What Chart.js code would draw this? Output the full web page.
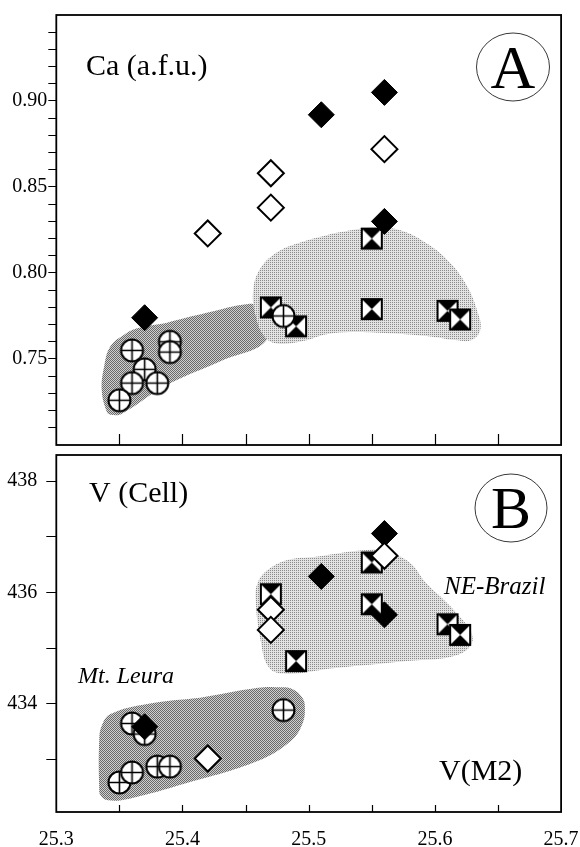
<!DOCTYPE html>
<html><head><meta charset="utf-8">
<script src="https://cdn.jsdelivr.net/npm/chart.js@4/dist/chart.umd.min.js"></script>
<style>
html,body{margin:0;padding:0;background:#fff;}
body{width:580px;height:847px;position:relative;overflow:hidden;}
#ca{position:absolute;left:0;top:0;}
#cb{position:absolute;left:0;top:440px;}
</style></head>
<body>
<canvas id="ca" width="580" height="460"></canvas>
<canvas id="cb" width="580" height="407"></canvas>
<script>
// ---------- shared axis ----------
const xMin = 25.3, xMax = 25.7, xStep = 0.05;

// ---------- Panel A : Ca (a.f.u.) ----------
const caFilledX = [25.56, 25.51, 25.56, 25.37];
const caFilledY = [0.905, 0.892, 0.830, 0.774];
const caOpenX   = [25.56, 25.47, 25.47, 25.42];
const caOpenY   = [0.872, 0.858, 0.838, 0.823];
const caSquareX = [25.55, 25.47, 25.49, 25.55, 25.61, 25.62];
const caSquareY = [0.820, 0.780, 0.769, 0.779, 0.778, 0.773];
const caCircleX = [25.48, 25.36, 25.39, 25.39, 25.37, 25.36, 25.38, 25.35];
const caCircleY = [0.775, 0.755, 0.760, 0.754, 0.744, 0.736, 0.736, 0.726];
// field outlines (data units)
const caLeuraX = [25.387, 25.420, 25.452, 25.460, 25.467, 25.431, 25.387, 25.352, 25.343, 25.340, 25.336, 25.338, 25.343, 25.354, 25.365, 25.387];
const caLeuraY = [0.7710, 0.7770, 0.7820, 0.7803, 0.7615, 0.7490, 0.7347, 0.7182, 0.7176, 0.7193, 0.7318, 0.7461, 0.7575, 0.7643, 0.7680, 0.7710];
const caBrazilX = [25.519, 25.550, 25.572, 25.594, 25.612, 25.625, 25.634, 25.636, 25.629, 25.616, 25.598, 25.563, 25.519, 25.493, 25.475, 25.465, 25.458, 25.456, 25.462, 25.475, 25.490, 25.519];
const caBrazilY = [0.823, 0.8265, 0.825, 0.817, 0.806, 0.793, 0.777, 0.767, 0.761, 0.761, 0.763, 0.765, 0.765, 0.760, 0.759, 0.763, 0.775, 0.790, 0.803, 0.812, 0.817, 0.823];
const caTicksY = [0.75, 0.80, 0.85, 0.90];

// ---------- Panel B : V (Cell) ----------
const vFilledX = [25.56, 25.51, 25.56, 25.37];
const vFilledY = [437.06, 436.29, 435.60, 433.59];
const vOpenX   = [25.56, 25.47, 25.47, 25.42];
const vOpenY   = [436.66, 435.69, 435.33, 433.02];
const vSquareX = [25.55, 25.47, 25.55, 25.49, 25.61, 25.62];
const vSquareY = [436.54, 435.97, 435.79, 434.77, 435.43, 435.24];
const vCircleX = [25.48, 25.36, 25.37, 25.35, 25.36, 25.38, 25.39];
const vCircleY = [433.89, 433.65, 433.46, 432.59, 432.77, 432.875, 432.875];
const vLeuraX = [25.414, 25.460, 25.475, 25.487, 25.495, 25.497, 25.495, 25.486, 25.460, 25.402, 25.358, 25.341, 25.335, 25.334, 25.334, 25.336, 25.343, 25.372, 25.414];
const vLeuraY = [434.11, 434.29, 434.30, 434.27, 434.11, 433.93, 433.64, 433.34, 432.98, 432.57, 432.30, 432.27, 432.36, 432.50, 433.34, 433.61, 433.82, 434.00, 434.11];
const vBrazilX = [25.504, 25.549, 25.566, 25.581, 25.592, 25.616, 25.630, 25.619, 25.578, 25.519, 25.484, 25.469, 25.462, 25.458, 25.460, 25.469, 25.484, 25.504];
const vBrazilY = [436.64, 436.77, 436.70, 436.52, 436.20, 435.66, 435.18, 434.89, 434.77, 434.64, 434.54, 434.64, 435.13, 435.89, 436.20, 436.43, 436.59, 436.64];
const vTicksY = [434, 436, 438];
const xTickLabels = [25.3, 25.4, 25.5, 25.6, 25.7];

// ---------- helpers ----------
const pts = (xs, ys) => xs.map((x, i) => ({x, y: ys[i]}));
const FONT = "'Liberation Serif', 'Times New Roman', serif";

function makeCircle(d) {
  const s = d + 4, c = document.createElement('canvas');
  c.width = c.height = s;
  const g = c.getContext('2d'), r = d / 2, m = s / 2;
  g.fillStyle = '#fff';
  g.beginPath(); g.arc(m, m, r, 0, Math.PI * 2); g.fill();
  g.strokeStyle = '#000'; g.lineWidth = 1.6;
  g.beginPath(); g.moveTo(m - r, m); g.lineTo(m + r, m); g.moveTo(m, m - r); g.lineTo(m, m + r); g.stroke();
  g.lineWidth = 2;
  g.beginPath(); g.arc(m, m, r - 0.5, 0, Math.PI * 2); g.stroke();
  return c;
}
function makeSquare(w) {
  const s = w + 2, c = document.createElement('canvas');
  c.width = c.height = s;
  const g = c.getContext('2d'), o = 1;
  g.fillStyle = '#fff'; g.fillRect(o, o, w, w);
  g.fillStyle = '#000';
  g.beginPath(); g.moveTo(o, o); g.lineTo(o + w, o); g.lineTo(o + w / 2, o + w / 2); g.closePath(); g.fill();
  g.beginPath(); g.moveTo(o, o + w); g.lineTo(o + w, o + w); g.lineTo(o + w / 2, o + w / 2); g.closePath(); g.fill();
  g.strokeStyle = '#000'; g.lineWidth = 2; g.strokeRect(o + 1, o + 1, w - 2, w - 2);
  return c;
}
function makePattern(size, dots, dark, light) {
  const c = document.createElement('canvas'); c.width = c.height = size;
  const g = c.getContext('2d');
  g.fillStyle = light; g.fillRect(0, 0, size, size);
  g.fillStyle = dark; dots.forEach(([x, y]) => g.fillRect(x, y, 1, 1));
  return g.createPattern(c, 'repeat');
}
const circleImg = makeCircle(23);
const squareImg = makeSquare(22);
const darkPat = makePattern(2, [[0, 0], [1, 1]], '#6a6a6a', '#cfcfcf');
const lightPat = makePattern(2, [[0, 0]], '#8a8a8a', '#e2e2e2');

const framePlugin = {
  id: 'frame',
  afterDraw(chart, args, opts) {
    const {ctx, chartArea: a} = chart, xs = chart.scales.x;
    ctx.save();
    ctx.strokeStyle = '#000'; ctx.lineWidth = 1.2;
    ctx.beginPath();
    xs.ticks.forEach(t => {
      if (t.value <= xMin + 1e-6 || t.value >= xMax - 1e-6) return;
      const px = Math.round(xs.getPixelForValue(t.value)) + 0.5;
      ctx.moveTo(px, a.bottom); ctx.lineTo(px, a.bottom - opts.tick);
    });
    ctx.stroke();
    ctx.lineWidth = 1.8;
    ctx.strokeRect(a.left, a.top, a.right - a.left, a.bottom - a.top);
    // panel letter circle
    const b = opts.badge;
    ctx.lineWidth = 0.9; ctx.strokeStyle = '#222';
    ctx.beginPath(); ctx.ellipse(b.cx, b.cy, b.rx, b.ry, 0, 0, Math.PI * 2); ctx.stroke();
    ctx.fillStyle = '#000'; ctx.textBaseline = 'alphabetic';
    ctx.font = b.font; ctx.textAlign = 'center';
    ctx.fillText(b.text, b.cx, b.base);
    opts.labels.forEach(l => {
      ctx.font = l.font; ctx.textAlign = 'left';
      ctx.fillText(l.text, l.x, l.y);
    });
    ctx.restore();
  }
};

function baseDatasets(fx, fy, ox, oy, sx, sy, cx, cy, bx, by, lx, ly, orders) {
  return [
    {label: 'filled', data: pts(fx, fy), pointStyle: 'rectRot', pointRadius: 13, backgroundColor: '#000', borderColor: '#000', borderWidth: 1, order: orders.filled},
    {label: 'open', data: pts(ox, oy), pointStyle: 'rectRot', pointRadius: 13, backgroundColor: '#fff', borderColor: '#000', borderWidth: 2, order: orders.open},
    {label: 'square', data: pts(sx, sy), pointStyle: squareImg, pointRadius: 11, order: orders.square},
    {label: 'circle', data: pts(cx, cy), pointStyle: circleImg, pointRadius: 11, order: orders.circle},
    {type: 'line', label: 'NE-Brazil field', data: pts(bx, by), fill: 'shape', backgroundColor: lightPat, borderColor: 'rgba(0,0,0,0)', borderWidth: 0, pointRadius: 0, tension: 0.4, order: 9},
    {type: 'line', label: 'Mt. Leura field', data: pts(lx, ly), fill: 'shape', backgroundColor: darkPat, borderColor: 'rgba(0,0,0,0)', borderWidth: 0, pointRadius: 0, tension: 0.4, order: 10}
  ];
}

const AXIS_LEFT = 56.3, AXIS_RIGHT_PAD = 580 - 561.1;

// ---------- Chart A ----------
new Chart(document.getElementById('ca'), {
  type: 'scatter',
  data: {datasets: baseDatasets(caFilledX, caFilledY, caOpenX, caOpenY, caSquareX, caSquareY, caCircleX, caCircleY, caBrazilX, caBrazilY, caLeuraX, caLeuraY, {filled: 0, open: 1, circle: 2, square: 3})},
  options: {
    responsive: false, animation: false, events: [],
    layout: {padding: {top: 13, right: AXIS_RIGHT_PAD, left: 0, bottom: 7}},
    plugins: {
      legend: {display: false}, tooltip: {enabled: false},
      frame: {
        tick: 11,
        badge: {text: 'A', cx: 513, cy: 67, rx: 36.5, ry: 34, base: 88, font: `62px ${FONT}`},
        labels: [{text: 'Ca (a.f.u.)', x: 86, y: 75, font: `30px ${FONT}`}]
      }
    },
    scales: {
      x: {type: 'linear', min: xMin, max: xMax, ticks: {display: false, stepSize: xStep}, grid: {display: false, drawTicks: false}, border: {display: false},
          afterFit(s) { s.height = 0; s.paddingLeft = 0; s.paddingRight = 0; }},
      y: {type: 'linear', min: 0.70, max: 0.95,
          ticks: {stepSize: 0.01, autoSkip: false, color: '#000', padding: 1, font: {family: FONT, size: 20},
                  callback: v => caTicksY.some(t => Math.abs(t - v) < 1e-6) ? v.toFixed(2) : ''},
          grid: {drawOnChartArea: false, drawTicks: true, tickLength: 8, color: '#000', lineWidth: 1},
          border: {display: false},
          afterBuildTicks(s) { s.ticks = s.ticks.filter(t => t.value > 0.705 && t.value < 0.945); },
          afterFit(s) { s.width = AXIS_LEFT; s.paddingTop = 0; s.paddingBottom = 0; }}
    }
  },
  plugins: [framePlugin]
});

// ---------- Chart B ----------
new Chart(document.getElementById('cb'), {
  type: 'scatter',
  data: {datasets: baseDatasets(vFilledX, vFilledY, vOpenX, vOpenY, vSquareX, vSquareY, vCircleX, vCircleY, vBrazilX, vBrazilY, vLeuraX, vLeuraY, {open: 0, square: 1, filled: 2, circle: 3})},
  options: {
    responsive: false, animation: false, events: [],
    layout: {padding: {top: 13, right: AXIS_RIGHT_PAD, left: 0, bottom: 0}},
    plugins: {
      legend: {display: false}, tooltip: {enabled: false},
      frame: {
        tick: 7,
        badge: {text: 'B', cx: 511, cy: 68, rx: 36, ry: 34, base: 88, font: `60px ${FONT}`},
        labels: [
          {text: 'V (Cell)', x: 89, y: 62, font: `30px ${FONT}`},
          {text: 'NE-Brazil', x: 444, y: 154, font: `italic 25px ${FONT}`},
          {text: 'Mt. Leura', x: 78, y: 243, font: `italic 24px ${FONT}`},
          {text: 'V(M2)', x: 439, y: 340, font: `30px ${FONT}`}
        ]
      }
    },
    scales: {
      x: {type: 'linear', min: xMin, max: xMax,
          ticks: {stepSize: xStep, color: '#000', padding: 16, maxRotation: 0, autoSkip: false, font: {family: FONT, size: 20},
                  callback: v => xTickLabels.some(t => Math.abs(t - v) < 1e-6) ? v.toFixed(1) : ''},
          grid: {display: false, drawTicks: false}, border: {display: false},
          afterFit(s) { s.height = 35; s.paddingLeft = 0; s.paddingRight = 0; }},
      y: {type: 'linear', min: 432.06, max: 438.47,
          ticks: {stepSize: 1, autoSkip: false, color: '#000', padding: 9, font: {family: FONT, size: 20},
                  callback: v => vTicksY.some(t => Math.abs(t - v) < 1e-6) ? String(Math.round(v)) : ''},
          grid: {drawOnChartArea: false, drawTicks: true, tickLength: 10, color: '#000', lineWidth: 1},
          border: {display: false},
          afterBuildTicks(s) { s.ticks = s.ticks.filter(t => Math.abs(t.value - Math.round(t.value)) < 1e-6 && t.value > 432.5 && t.value < 438.3); },
          afterFit(s) { s.width = AXIS_LEFT; s.paddingTop = 0; s.paddingBottom = 0; }}
    }
  },
  plugins: [framePlugin]
});
</script>
</body></html>
